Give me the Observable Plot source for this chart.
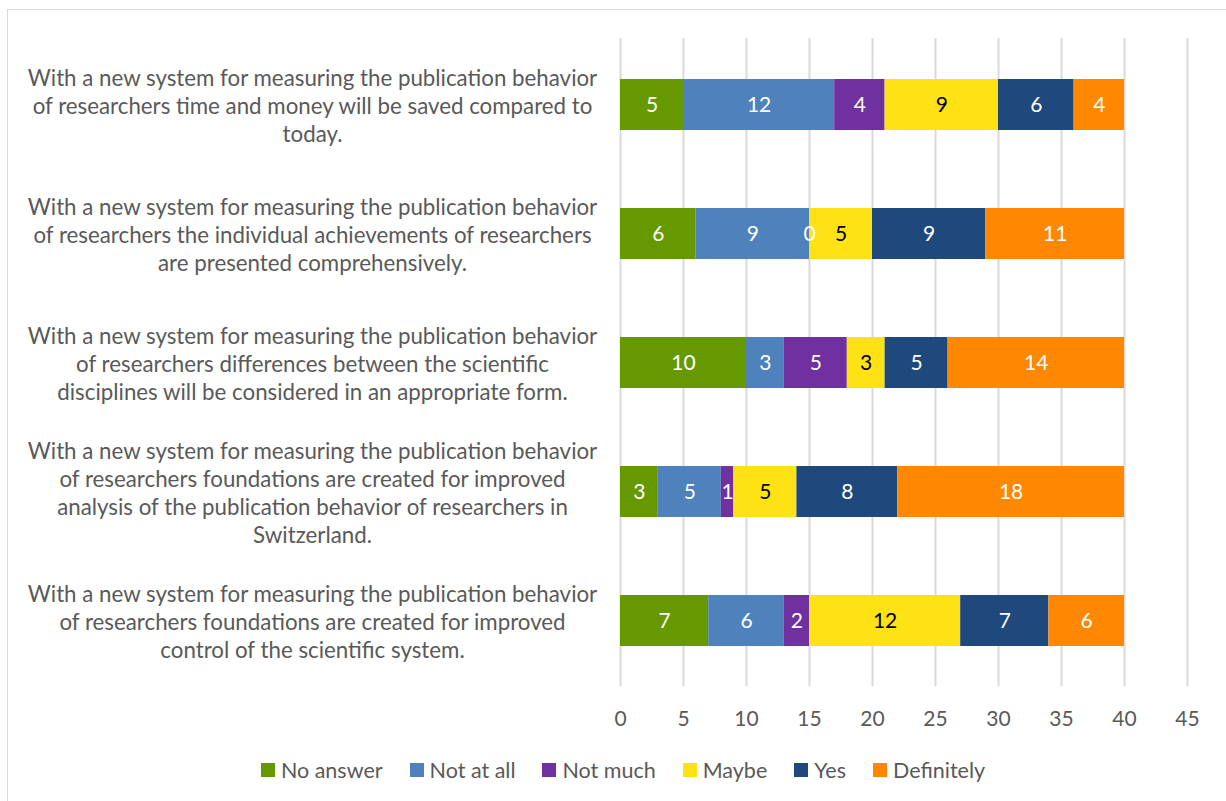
<!DOCTYPE html>
<html>
<head>
<meta charset="utf-8">
<script src="https://cdn.jsdelivr.net/npm/d3@7"></script>
<script src="https://cdn.jsdelivr.net/npm/@observablehq/plot@0.6"></script>
<style>
  html, body { margin: 0; padding: 0; background: #fff; }
  #wrap { position: relative; width: 1226px; height: 801px; overflow: hidden; font-family: Lato, "Open Sans", sans-serif; }
  #border { position: absolute; left: 7px; top: 9px; width: 1240px; height: 820px; border: 1px solid #d9d9d9; box-sizing: border-box; }
  #chart { position: absolute; left: 0; top: 0; }
  #legend { position: absolute; left: 0; top: 757px; width: 1246px; display: flex; justify-content: center; gap: 27px; font-size: 21.5px; color: #595959; }
  #legend .item { display: flex; align-items: center; }
  #legend .sw { width: 14px; height: 14px; margin-right: 6px; }
</style>
</head>
<body>
<div id="wrap">
  <div id="border"></div>
  <div id="chart"></div>
  <div id="legend"></div>
</div>
<script>
const questions = [
  "With a new system for measuring the publication behavior\nof researchers time and money will be saved compared to\ntoday.",
  "With a new system for measuring the publication behavior\nof researchers the individual achievements of researchers\nare presented comprehensively.",
  "With a new system for measuring the publication behavior\nof researchers differences between the scientific\ndisciplines will be considered in an appropriate form.",
  "With a new system for measuring the publication behavior\nof researchers foundations are created for improved\nanalysis of the publication behavior of researchers in\nSwitzerland.",
  "With a new system for measuring the publication behavior\nof researchers foundations are created for improved\ncontrol of the scientific system."
];
const categories = ["No answer", "Not at all", "Not much", "Maybe", "Yes", "Definitely"];
const colors = ["#669900", "#4f81bd", "#7030a0", "#ffe213", "#1f497d", "#ff8800"];
const labelColors = ["#ffffff", "#ffffff", "#ffffff", "#000000", "#ffffff", "#ffffff"];
const noAnswer   = [5, 6, 10, 3, 7];
const notAtAll   = [12, 9, 3, 5, 6];
const notMuch    = [4, 0, 5, 1, 2];
const maybe      = [9, 5, 3, 5, 12];
const yes        = [6, 9, 5, 8, 7];
const definitely = [4, 11, 14, 18, 6];
const xTicks = [0, 5, 10, 15, 20, 25, 30, 35, 40, 45];

const series = [noAnswer, notAtAll, notMuch, maybe, yes, definitely];
const data = [];
questions.forEach((q, qi) => {
  categories.forEach((c, ci) => {
    data.push({question: q, category: c, value: series[ci][qi], ci});
  });
});

const font = "Lato, 'Open Sans', sans-serif";

const plot = Plot.plot({
  width: 1226,
  height: 745,
  marginLeft: 620,
  marginRight: 39,
  marginTop: 38,
  marginBottom: 59,
  style: {fontFamily: font, background: "transparent"},
  x: {domain: [0, 45], ticks: xTicks},
  y: {domain: questions, paddingInner: 0.605, paddingOuter: 0.3025, axis: null},
  color: {domain: categories, range: colors},
  marks: [
    Plot.gridX(xTicks, {stroke: "#d9d9d9", strokeOpacity: 1, strokeWidth: 2}),
    Plot.barX(data, Plot.stackX({x: "value", y: "question", fill: "category", order: null})),
    Plot.text(data, Plot.stackX({
      x: "value", y: "question", z: "category", order: null,
      text: d => String(d.value),
      fill: d => labelColors[d.ci],
      fontSize: 21
    })),
    Plot.text(questions, {
      y: d => d,
      text: d => d,
      frameAnchor: "left",
      dx: -308,
      textAnchor: "middle",
      lineHeight: 1.25,
      fontSize: 22.3,
      fill: "#595959"
    }),
    Plot.axisX(xTicks, {
      tickSize: 0,
      tickPadding: 25,
      fontSize: 21,
      fill: "#595959",
      label: null
    })
  ]
});
document.getElementById("chart").appendChild(plot);

const legend = document.getElementById("legend");
categories.forEach((c, i) => {
  const item = document.createElement("div");
  item.className = "item";
  const sw = document.createElement("span");
  sw.className = "sw";
  sw.style.background = colors[i];
  const t = document.createElement("span");
  t.textContent = c;
  item.appendChild(sw);
  item.appendChild(t);
  legend.appendChild(item);
});
</script>
</body>
</html>
